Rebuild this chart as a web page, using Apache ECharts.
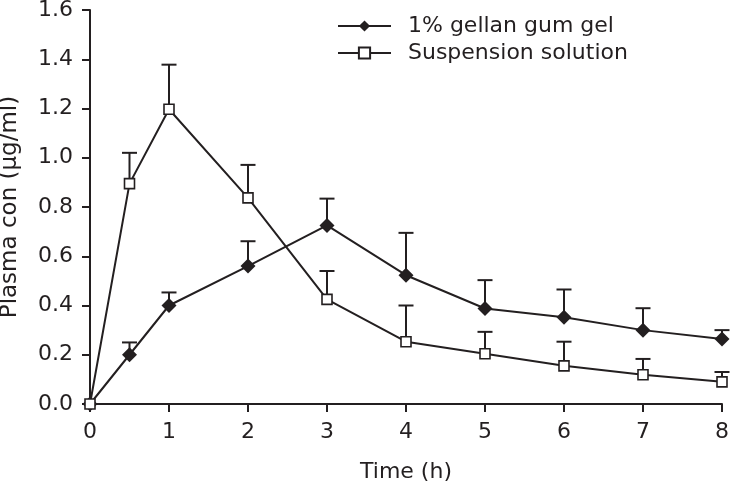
<!DOCTYPE html>
<html>
<head>
<meta charset="utf-8">
<script src="https://cdn.jsdelivr.net/npm/echarts@6/dist/echarts.min.js"></script>
<style>html,body{margin:0;padding:0;background:#fff}#c{width:730px;height:489px}</style>
</head>
<body>
<div id="c"></div>
<script>
const times = [0, 0.5, 1, 2, 3, 4, 5, 6, 7, 8];
const gelMean = [0, 0.20, 0.40, 0.56, 0.725, 0.523, 0.388, 0.352, 0.300, 0.264];
const gelUpper = [0, 0.25, 0.453, 0.661, 0.834, 0.695, 0.503, 0.465, 0.389, 0.300];
const susMean = [0, 0.895, 1.197, 0.837, 0.425, 0.253, 0.204, 0.155, 0.119, 0.090];
const susUpper = [0, 1.02, 1.378, 0.971, 0.540, 0.400, 0.293, 0.253, 0.183, 0.130];
const xTicks = [0, 1, 2, 3, 4, 5, 6, 7, 8];
const yTicks = [0, 0.2, 0.4, 0.6, 0.8, 1.0, 1.2, 1.4, 1.6];
const names = ['1% gellan gum gel', 'Suspension solution'];

const INK = '#231f20';
const FONT = 'DejaVu Sans';

function pairs(xs, ys) { return xs.map((x, i) => [x, ys[i]]); }
function errData(xs, m, u) { return xs.map((x, i) => [x, m[i], u[i]]).filter(d => d[2] > d[1]); }

function errRender(params, api) {
  const x = api.value(0);
  const p0 = api.coord([x, api.value(1)]);
  const p1 = api.coord([x, api.value(2)]);
  const hw = 7.5;
  const st = { stroke: INK, lineWidth: 2 };
  return {
    type: 'group',
    children: [
      { type: 'line', shape: { x1: p0[0], y1: p0[1], x2: p1[0], y2: p1[1] }, style: st },
      { type: 'line', shape: { x1: p1[0] - hw, y1: p1[1], x2: p1[0] + hw, y2: p1[1] }, style: st }
    ]
  };
}

const chart = echarts.init(document.getElementById('c'), null, { renderer: 'canvas' });
chart.setOption({
  animation: false,
  backgroundColor: '#fff',
  textStyle: { fontFamily: FONT, color: INK },
  grid: { left: 90, right: 8, top: 10, bottom: 85, containLabel: false, outerBoundsMode: 'none' },
  legend: {
    orient: 'vertical',
    left: 337,
    top: 15,
    padding: 0,
    itemWidth: 53,
    itemHeight: 14,
    itemGap: 5,
    data: names,
    textStyle: { fontFamily: FONT, fontSize: 22, color: INK, padding: [0, 0, 0, 12] }
  },
  xAxis: {
    type: 'value',
    min: 0, max: 8, interval: 1,
    name: 'Time (h)',
    nameLocation: 'middle',
    nameGap: 57,
    nameTextStyle: { fontFamily: FONT, fontSize: 22, color: INK },
    axisLine: { show: true, lineStyle: { color: INK, width: 2 } },
    axisTick: { show: true, length: 8, lineStyle: { color: INK, width: 2 } },
    axisLabel: { fontFamily: FONT, fontSize: 22, color: INK, margin: 17,
      formatter: v => xTicks.includes(v) ? String(v) : '' },
    splitLine: { show: false }
  },
  yAxis: {
    type: 'value',
    min: 0, max: 1.6, interval: 0.2,
    name: 'Plasma con (μg/ml)',
    nameLocation: 'middle',
    nameGap: 68,
    nameTextStyle: { fontFamily: FONT, fontSize: 23, color: INK },
    axisLine: { show: true, lineStyle: { color: INK, width: 2 } },
    axisTick: { show: true, length: 8, lineStyle: { color: INK, width: 2 } },
    axisLabel: { fontFamily: FONT, fontSize: 22, color: INK, margin: 17,
      formatter: v => { const t = yTicks.find(y => Math.abs(y - v) < 1e-9); return t === undefined ? '' : t.toFixed(1); } },
    splitLine: { show: false }
  },
  series: [
    { type: 'custom', name: 'gelErr', renderItem: errRender, data: errData(times, gelMean, gelUpper), z: 1, silent: true },
    { type: 'custom', name: 'susErr', renderItem: errRender, data: errData(times, susMean, susUpper), z: 1, silent: true },
    {
      type: 'line', name: names[0], data: pairs(times, gelMean), z: 3,
      symbol: 'diamond', symbolSize: 15, showAllSymbol: true,
      lineStyle: { color: INK, width: 2 },
      itemStyle: { color: INK, borderColor: INK, borderWidth: 0 }
    },
    {
      type: 'line', name: names[1], data: pairs(times, susMean), z: 4,
      symbol: 'rect', symbolSize: 10, showAllSymbol: true,
      lineStyle: { color: INK, width: 2 },
      itemStyle: { color: '#fff', borderColor: INK, borderWidth: 1.6 }
    }
  ]
});
</script>
</body>
</html>
